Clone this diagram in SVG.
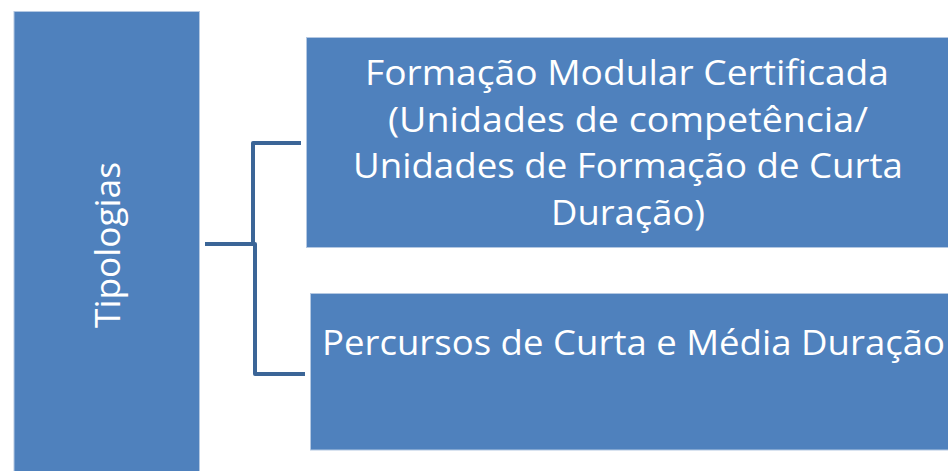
<svg xmlns="http://www.w3.org/2000/svg" width="948" height="471" viewBox="0 0 948 471">
<style>
.box{fill:#4f81bd;stroke:#b4c8e2;stroke-width:1}
.t{fill:#ffffff;font-family:"Open Sans","Liberation Sans","DejaVu Sans",sans-serif;font-size:35px}
.c{fill:none;stroke:#3b6597;stroke-width:4;stroke-linejoin:round;stroke-linecap:butt}
</style>
<rect width="948" height="471" fill="#ffffff"/>
<g id="connectors">
<path class="c" d="M205,244 H253 V143 H301"/>
<path class="c" d="M253,244 H255 V374 H305"/>
</g>
<g id="node-tipologias">
<rect class="box" x="14" y="11.5" width="185.5" height="470"/>
<text class="t" transform="translate(120,328) rotate(-90)" x="0" y="0" textLength="166" lengthAdjust="spacingAndGlyphs">Tipologias</text>
</g>
<g id="node-formacao">
<rect class="box" x="306.5" y="37.5" width="650" height="210"/>
<text class="t" x="365" y="85" textLength="524" lengthAdjust="spacingAndGlyphs">Formação Modular Certificada</text>
<text class="t" x="388" y="131.5" textLength="480" lengthAdjust="spacingAndGlyphs">(Unidades de competência/</text>
<text class="t" x="353" y="178" textLength="550" lengthAdjust="spacingAndGlyphs">Unidades de Formação de Curta</text>
<text class="t" x="551" y="225" textLength="154" lengthAdjust="spacingAndGlyphs">Duração)</text>
</g>
<g id="node-percursos">
<rect class="box" x="310.5" y="293.5" width="650" height="156.5"/>
<text class="t" x="322" y="355" textLength="623" lengthAdjust="spacingAndGlyphs">Percursos de Curta e Média Duração</text>
</g>
</svg>
